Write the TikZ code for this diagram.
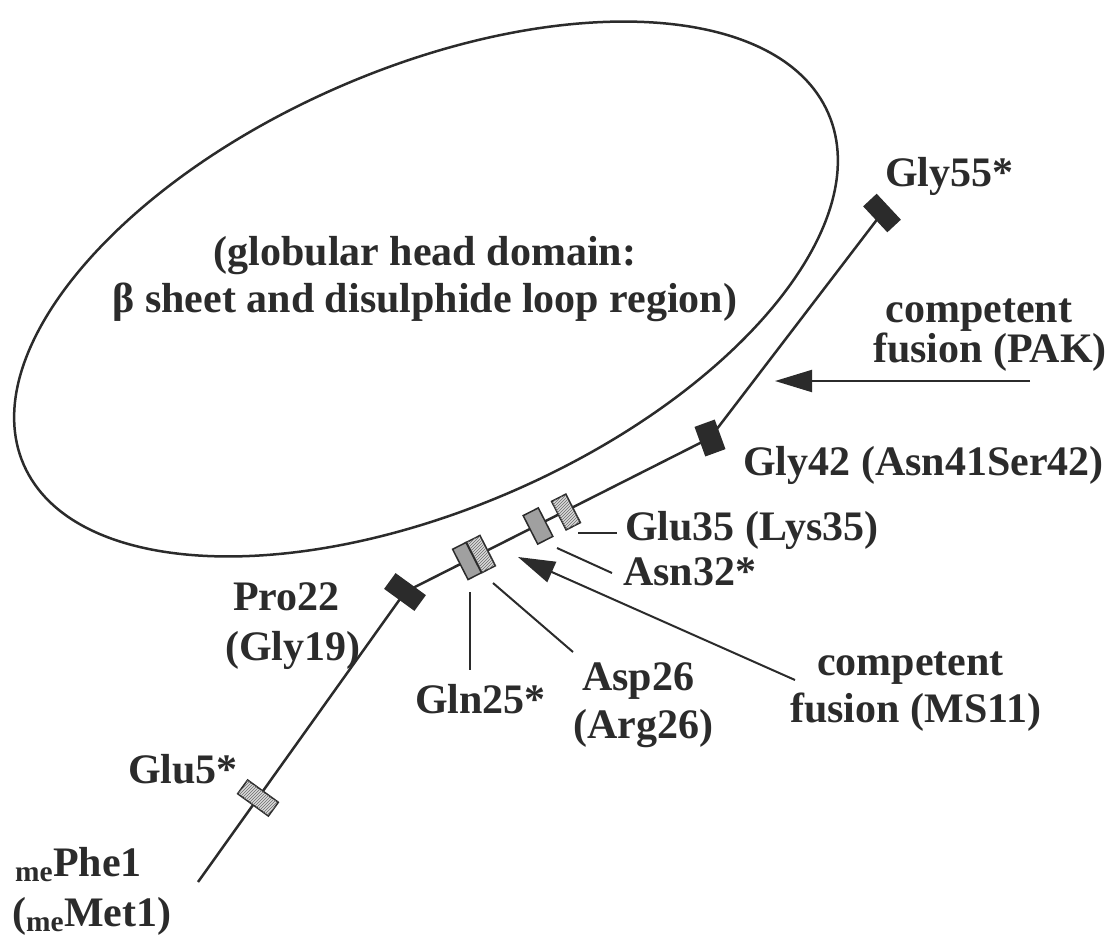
\documentclass[tikz,border=0pt]{standalone}
\usepackage{fontspec}
\setmainfont{Liberation Serif}
\usetikzlibrary{arrows.meta,patterns,backgrounds}

\definecolor{ink}{HTML}{2B2B2B}
\definecolor{midgrey}{HTML}{A0A0A0}
\definecolor{hatchgrey}{HTML}{DADADA}

\tikzset{
  lab/.style={font=\fontsize{42}{47}\selectfont\bfseries, text=ink, inner sep=0pt},
  res/.style={draw=ink, line width=1.5pt, inner sep=0pt},
  blackbox/.style={res, fill=ink},
  greybox/.style={res, fill=midgrey},
  hatchbox/.style={res, fill=hatchgrey, postaction={pattern=north east lines, pattern color=ink!70}},
  backbone/.style={line width=2.5pt, draw=ink},
  lead/.style={line width=2pt, draw=ink},
  fusion/.style={line width=2pt, draw=ink, -{Triangle[length=37pt,width=22pt]}}
}

\begin{document}
\begin{tikzpicture}[x=1pt, y=-1pt]
  \useasboundingbox (0,0) rectangle (1108,938);

  % globular head
  \draw[line width=2.5pt, ink, rotate around={23.6:(426,289)}] (426,289) ellipse [x radius=439, y radius=220];
  \node[lab, anchor=base] (head1) at (425,265) {(globular head domain:};
  \node[lab, anchor=base] (head2) at (425,312) {β sheet and disulphide loop region)};

  % residues on the N-terminal arm
  \coordinate (nterm) at (198,882);
  \node[hatchbox, minimum width=17pt, minimum height=38pt, rotate=54] (e5) at (258,798) {};
  \node[blackbox, minimum width=18pt, minimum height=36pt, rotate=54] (p22) at (405,592) {};
  \node[greybox, minimum width=15pt, minimum height=34pt, rotate=27] (q25) at (467,561) {};
  \node[hatchbox, minimum width=15pt, minimum height=34pt, rotate=27] (d26) at (481,554) {};
  \node[greybox, minimum width=17pt, minimum height=32pt, rotate=27] (n32) at (538,526) {};
  \node[hatchbox, minimum width=16pt, minimum height=32pt, rotate=27] (e35) at (566,512) {};
  \node[blackbox, minimum width=20pt, minimum height=30pt, rotate=20] (g42) at (710,438) {};
  \node[blackbox, minimum width=17pt, minimum height=34pt, rotate=43] (g55) at (882,213) {};
  \begin{scope}[on background layer]
    \draw[backbone] (nterm) -- (p22.center) -- (g42.center) -- (g55.center);
  \end{scope}

  % labels
  \node[lab, anchor=base west] (g55lab) at (885,186) {Gly55*};
  \node[lab, anchor=base] (pak1) at (979,322) {competent};
  \node[lab, anchor=base west] (pak2) at (873,362) {fusion (PAK)};
  \node[lab, anchor=base west] (g42lab) at (743,475) {Gly42 (Asn41Ser42)};
  \node[lab, anchor=base west] (e35lab) at (625,540) {Glu35 (Lys35)};
  \node[lab, anchor=base west] (n32lab) at (623,585) {Asn32*};
  \node[lab, anchor=base west] (q25lab) at (415,713) {Gln25*};
  \node[lab, anchor=base west] (d26lab) at (582,690) {Asp26};
  \node[lab, anchor=base west] (d26lab2) at (573,738) {(Arg26)};
  \node[lab, anchor=base west] (ms11a) at (817,675) {competent};
  \node[lab, anchor=base west] (ms11b) at (790,722) {fusion (MS11)};
  \node[lab, anchor=base west] (p22lab) at (233,610) {Pro22};
  \node[lab, anchor=base west] (p22lab2) at (225,660) {(Gly19)};
  \node[lab, anchor=base west] (e5lab) at (128,783) {Glu5*};
  \node[lab, anchor=base west] (f1lab) at (15,876) {\textsubscript{me}Phe1};
  \node[lab, anchor=base west] (f1lab2) at (12,926) {(\textsubscript{me}Met1)};

  % leaders
  \coordinate (e35end) at (578,533);
  \coordinate (n32end) at (557,548);
  \coordinate (q25end) at (470,592);
  \coordinate (d26end) at (493,583);
  \draw[lead] (e35end) -- ([shift={(-8pt,7pt)}]e35lab.base west);
  \draw[lead] (n32end) -- ([shift={(-11pt,12pt)}]n32lab.base west);
  \draw[lead] (q25end) -- ([shift={(55pt,43pt)}]q25lab.base west);
  \draw[lead] (d26end) -- ([shift={(-9pt,38pt)}]d26lab.base west);

  % competent fusion arrows
  \coordinate (paktail) at (1030,381);
  \coordinate (paktip) at (775,381);
  \coordinate (ms11tip) at (518,557);
  \draw[fusion] (paktail) -- (paktip);
  \draw[fusion] ([shift={(-22pt,-5pt)}]ms11a.base west) -- (ms11tip);
\end{tikzpicture}
\end{document}
